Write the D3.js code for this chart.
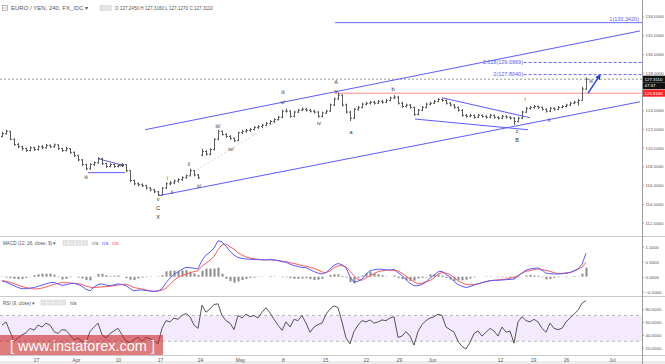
<!DOCTYPE html>
<html>
<head>
<meta charset="utf-8">
<script src="https://cdn.jsdelivr.net/npm/d3@7"></script>
<style>
  body { margin: 0; background: #fff; }
  svg { display: block; font-family: "Liberation Sans", Arial, sans-serif; }
</style>
</head>
<body>
<svg id="chart" width="665" height="364"></svg>
<script>
// 4h bars, sampled ~every third bar: [open, high, low, close]
var ohlc = [
  [121.2,121.7,121.1,121.5],[121.5,121.9,121.4,121.75],[121.75,121.8,120.8,120.9],[120.9,121.0,120.2,120.35],
  [120.35,120.5,119.95,120.1],[120.1,120.2,119.7,119.9],[119.9,120.0,119.55,119.7],[119.7,120.15,119.6,120.0],
  [120.0,120.1,119.65,119.8],[119.8,120.25,119.7,120.1],[120.1,120.3,119.85,120.0],[120.0,120.4,119.9,120.25],
  [120.25,120.35,119.95,120.1],[120.1,120.45,120.0,120.3],[120.3,120.35,119.75,119.9],[119.9,120.0,119.55,119.7],
  [119.7,120.1,119.6,119.9],[119.9,119.95,119.35,119.5],[119.5,119.6,119.0,119.15],[119.15,119.25,118.55,118.7],
  [118.7,118.8,118.05,118.2],[118.2,118.3,117.6,117.75],[117.75,118.35,117.65,118.2],[118.2,118.55,118.05,118.4],
  [118.4,119.0,118.3,118.85],[118.85,118.9,118.15,118.3],[118.3,118.4,117.85,118.0],[118.0,118.35,117.9,118.2],
  [118.2,118.3,117.85,118.0],[118.0,118.25,117.9,118.1],[118.1,118.35,117.95,118.2],[118.2,118.25,117.4,117.55],
  [117.55,117.6,116.35,116.5],[116.5,116.6,116.0,116.15],[116.15,116.3,115.9,116.05],[116.05,116.2,115.8,115.95],
  [115.95,116.05,115.55,115.7],[115.7,115.8,115.35,115.5],[115.5,115.6,115.15,115.3],[115.3,115.4,114.85,114.95],
  [114.95,115.8,114.9,115.7],[115.7,116.3,115.6,116.15],[116.15,116.45,116.0,116.25],[116.25,116.6,116.1,116.45],
  [116.45,116.75,116.3,116.6],[116.6,116.95,116.45,116.8],[116.8,117.15,116.7,117.0],[117.0,117.75,116.95,117.55],
  [117.55,117.6,116.95,117.1],[117.1,117.2,116.65,116.8],[119.2,119.9,119.1,119.6],[119.6,119.75,119.15,119.3],
  [119.3,119.95,119.2,119.8],[119.8,121.0,119.7,120.9],[120.9,121.9,120.8,121.75],[121.75,121.85,121.3,121.4],
  [121.4,121.55,121.05,121.2],[121.2,121.35,120.85,121.0],[121.0,121.1,120.6,120.75],[120.75,121.7,120.7,121.6],
  [121.6,121.9,121.45,121.75],[121.75,122.0,121.6,121.85],[121.85,122.1,121.7,121.95],[121.95,122.3,121.85,122.15],
  [122.15,122.4,122.0,122.25],[122.25,122.55,122.1,122.4],[122.4,122.75,122.3,122.6],[122.6,122.95,122.45,122.8],
  [122.8,123.15,122.65,123.0],[123.0,123.4,122.9,123.25],[123.25,124.05,123.15,123.9],[123.9,124.2,123.75,123.9],
  [123.9,124.0,123.2,123.35],[123.35,123.95,123.25,123.8],[123.8,124.15,123.7,124.0],[124.0,124.3,123.9,124.1],
  [124.1,124.25,123.85,124.0],[124.0,124.15,123.75,123.9],[123.9,124.05,123.65,123.8],[123.8,123.9,123.2,123.35],
  [123.35,123.85,123.25,123.7],[123.7,124.05,123.6,123.9],[123.9,124.7,123.85,124.55],[124.55,125.35,124.45,125.2],
  [125.2,125.9,125.1,125.6],[125.6,125.7,124.4,124.55],[124.55,124.7,123.65,123.8],[123.8,123.95,122.85,123.15],
  [123.15,124.25,123.05,124.1],[124.1,124.45,123.95,124.3],[124.3,124.8,124.2,124.65],[124.65,124.9,124.5,124.75],
  [124.75,125.0,124.6,124.85],[124.85,125.0,124.6,124.75],[124.75,125.1,124.65,124.95],[124.95,125.1,124.7,124.85],
  [124.85,125.2,124.75,125.05],[125.05,125.45,124.95,125.3],[125.3,125.6,125.2,125.4],[125.4,125.5,124.6,124.75],
  [124.75,124.9,124.25,124.4],[124.4,124.7,124.3,124.55],[124.55,124.65,124.15,124.3],[124.3,124.4,123.4,123.55],
  [123.55,124.15,123.45,124.0],[124.0,124.45,123.9,124.3],[124.3,124.8,124.2,124.65],[124.65,124.9,124.5,124.75],
  [124.75,125.1,124.65,124.95],[124.95,125.3,124.85,125.15],[125.15,125.25,124.9,125.05],[125.05,125.15,124.6,124.75],
  [124.75,124.85,124.4,124.55],[124.55,124.65,124.15,124.3],[124.3,124.4,123.85,124.0],[124.0,124.1,123.3,123.45],
  [123.45,123.6,123.2,123.35],[123.35,123.6,123.25,123.45],[123.45,123.55,123.1,123.25],[123.25,123.6,123.15,123.45],
  [123.45,123.55,123.2,123.35],[123.35,123.45,123.1,123.25],[123.25,123.6,123.15,123.45],[123.45,123.55,123.1,123.25],
  [123.25,123.35,123.0,123.15],[123.15,123.5,123.05,123.35],[123.35,123.45,123.1,123.25],[123.25,123.35,123.0,123.15],
  [123.15,123.25,122.45,122.8],[122.8,123.3,122.7,123.15],[123.15,123.95,123.05,123.8],[123.8,124.35,123.7,124.2],
  [124.2,124.45,124.05,124.3],[124.3,124.55,124.15,124.4],[124.4,124.5,124.15,124.3],[124.3,124.4,123.95,124.1],
  [124.1,124.2,123.75,123.9],[123.9,124.35,123.8,124.2],[124.2,124.3,123.95,124.1],[124.1,124.45,124.0,124.3],
  [124.3,124.55,124.2,124.4],[124.4,124.7,124.3,124.55],[124.55,124.9,124.45,124.75],[124.75,125.0,124.65,124.85],
  [124.85,125.2,124.5,125.05],[125.05,126.5,125.0,126.25],[126.25,127.5,126.15,127.31]
];

var macdLine = [
  -0.14,-0.18,-0.24,-0.30,-0.36,-0.40,-0.40,-0.38,-0.36,-0.32,-0.28,-0.24,-0.20,-0.19,-0.24,-0.29,
  -0.27,-0.23,-0.22,-0.26,-0.32,-0.42,-0.47,-0.35,-0.26,-0.24,-0.28,-0.30,-0.27,-0.24,-0.26,-0.30,
  -0.40,-0.47,-0.45,-0.44,-0.46,-0.48,-0.49,-0.48,-0.40,-0.20,-0.05,0.08,0.16,0.25,0.31,0.30,
  0.28,0.26,0.55,0.72,0.82,0.95,1.20,1.16,1.02,0.85,0.72,0.64,0.61,0.59,0.58,0.57,
  0.57,0.56,0.56,0.58,0.56,0.54,0.50,0.48,0.42,0.37,0.34,0.31,0.30,0.24,0.17,0.12,
  0.09,0.14,0.26,0.38,0.44,0.40,0.30,0.00,-0.19,-0.15,-0.08,0.08,0.20,0.23,0.25,0.25,
  0.23,0.22,0.25,0.14,0.04,-0.10,-0.22,-0.30,-0.30,-0.26,-0.18,-0.05,0.05,0.16,0.18,0.08,
  -0.02,-0.16,-0.26,-0.32,-0.36,-0.33,-0.28,-0.24,-0.20,-0.16,-0.13,-0.12,-0.12,-0.11,-0.10,-0.09,
  -0.08,0.02,0.12,0.22,0.26,0.28,0.29,0.22,0.12,0.10,0.09,0.09,0.10,0.11,0.14,0.20,
  0.26,0.42,0.78
];

var signalLine = [
  -0.13,-0.15,-0.19,-0.23,-0.28,-0.33,-0.36,-0.39,-0.41,-0.40,-0.38,-0.34,-0.30,-0.26,-0.22,-0.20,
  -0.20,-0.21,-0.22,-0.23,-0.26,-0.31,-0.35,-0.36,-0.35,-0.34,-0.33,-0.32,-0.30,-0.28,-0.26,-0.25,
  -0.30,-0.36,-0.39,-0.41,-0.44,-0.47,-0.49,-0.47,-0.45,-0.38,-0.25,-0.12,-0.02,0.04,0.09,0.13,
  0.17,0.20,0.35,0.45,0.55,0.68,0.90,1.06,1.09,1.00,0.92,0.80,0.72,0.66,0.62,0.60,
  0.58,0.57,0.56,0.56,0.55,0.54,0.52,0.50,0.47,0.44,0.41,0.37,0.35,0.32,0.28,0.22,
  0.16,0.13,0.20,0.30,0.36,0.37,0.33,0.18,0.03,-0.10,-0.12,-0.04,0.03,0.10,0.17,0.20,
  0.22,0.22,0.21,0.19,0.12,0.02,-0.08,-0.17,-0.24,-0.22,-0.16,-0.13,-0.04,0.08,0.14,0.12,
  0.07,-0.02,-0.14,-0.20,-0.26,-0.27,-0.26,-0.24,-0.20,-0.17,-0.14,-0.12,-0.11,-0.09,-0.08,-0.05,
  -0.02,0.04,0.12,0.18,0.20,0.24,0.26,0.24,0.21,0.18,0.13,0.11,0.11,0.13,0.14,0.18,
  0.25,0.32,0.48
];

var rsiLine = [
  55,60,45,30,35,40,43,50,47,55,52,58,55,45,42,48,47,40,32,35,30,28,45,52,58,40,35,42,46,50,
  40,30,28,33,36,30,36,34,30,26,50,62,60,66,64,70,73,68,55,50,86,75,80,87,88,70,62,58,48,70,
  66,72,68,70,66,75,82,74,64,55,47,60,52,64,62,70,58,44,52,56,58,72,80,85,82,60,35,26,45,55,
  62,60,63,58,60,63,62,66,68,36,38,45,38,24,45,56,62,66,68,72,70,52,48,44,30,22,18,28,42,46,
  38,44,50,46,38,52,44,46,27,60,68,62,60,64,60,50,44,58,50,48,50,60,66,72,78,89,93
];

var priceTicks = [112,114,116,118,120,122,124,126,128,130,132,134];
var macdTicks = [-0.5,0,0.5,1];
var rsiTicks = [20,40,60,80];
var dateLabels = ["27","Apr","10","17","24","May","8","15","22","29","Jun","12","19","26","Jul"];
var dateIdx = [8.5,18.5,29,39.5,49.5,59.5,70.25,80.75,91,99.25,107.5,124.5,132.75,141,152.5];

// Elliott wave labels: [text, bar index, price]
var waveLabels = [
  ["iii",21,116.92],["iv",30,118.19],["v",39,114.47],["C",39,113.51],["X",39,112.55],
  ["i",41.25,116.81],["ii",42.5,115.32],["i/",46.75,118.3],["ii/",49.25,115.96],
  ["iii/",54,122.34],["iv/",57.25,119.9],["iii",70.25,125.96],["v/",70.25,124.9],
  ["iv",79.25,122.66],["A",83.5,127.03],["v",83.5,126.07],["a",87.25,121.71],
  ["b",97.75,126.28],["i",130.75,125.22],["c",128.75,121.81],["B",128.75,120.85],
  ["ii",136.75,122.98],["iii",147.25,127.1]
];

// drawn trend lines: [idx1, price1, idx2, price2]
var trendLines = [
  [35.75,121.92,159.5,132.46],
  [39.25,114.89,159.5,124.90],
  [24,118.83,30.5,118.09],
  [21.5,117.34,30.75,117.34],
  [110,125.33,132,123.20],
  [103.25,123.06,131.5,121.92]
];

var lastPrice = 127.311, stopPrice = 125.816;

var svg = d3.select("#chart");
var axisX = 642;

var x = d3.scaleLinear().domain([0, 146]).range([2, 586]);
var yP = d3.scaleLinear().domain([112, 134]).range([222.7, 16.5]);
var yM = d3.scaleLinear().domain([-0.5, 1]).range([291.7, 246.7]);
var yR = d3.scaleLinear().domain([20, 80]).range([347.7, 309]);

// panel frame
svg.append("clipPath").attr("id", "clipMain")
  .append("rect").attr("x", 0).attr("y", 12).attr("width", axisX).attr("height", 222);

[236, 296, 355].forEach(function (yy) {
  svg.append("line").attr("x1", 0).attr("x2", 665).attr("y1", yy + 0.5).attr("y2", yy + 0.5)
    .attr("stroke", "#c9c9c9");
});
svg.append("rect").attr("x", 0).attr("y", 361).attr("width", 665).attr("height", 3).attr("fill", "#ececec");
svg.append("line").attr("x1", axisX + 0.5).attr("x2", axisX + 0.5).attr("y1", 0).attr("y2", 364)
  .attr("stroke", "#9a9a9a");

// RSI band
svg.append("rect").attr("x", 0).attr("width", axisX).attr("y", yR(70)).attr("height", yR(30) - yR(70))
  .attr("fill", "#f3eafd");
[70, 30].forEach(function (v) {
  svg.append("line").attr("x1", 0).attr("x2", axisX).attr("y1", yR(v)).attr("y2", yR(v))
    .attr("stroke", "#b8b8b8").attr("stroke-dasharray", "3,3");
});

// main panel
var main = svg.append("g").attr("clip-path", "url(#clipMain)");

main.append("line").attr("x1", 0).attr("x2", axisX).attr("y1", yP(lastPrice)).attr("y2", yP(lastPrice))
  .attr("stroke", "#999").attr("stroke-dasharray", "2,2");
main.append("line").attr("x1", x(83)).attr("x2", axisX).attr("y1", yP(stopPrice)).attr("y2", yP(stopPrice))
  .attr("stroke", "#ff8a8a");
main.append("line").attr("x1", x(83.25)).attr("x2", axisX).attr("y1", yP(133.342)).attr("y2", yP(133.342))
  .attr("stroke", "#6a6aff");
main.append("text").attr("x", 639).attr("y", yP(133.342) - 2).attr("text-anchor", "end")
  .attr("font-size", 5.5).attr("fill", "#5c5cff").text("1(133.3420)");

[[129.0969, "2.618(129.0969)"], [127.804, "2(127.8040)"]].forEach(function (f) {
  main.append("line").attr("x1", x(130.4)).attr("x2", axisX).attr("y1", yP(f[0])).attr("y2", yP(f[0]))
    .attr("stroke", "#6a6aff").attr("stroke-dasharray", "3,2");
  main.append("text").attr("x", x(130.25)).attr("y", yP(f[0])).attr("dy", "0.35em")
    .attr("text-anchor", "end").attr("font-size", 5.5).attr("fill", "#5c5cff").text(f[1]);
});

// faint guide
main.append("line").attr("x1", x(48.75)).attr("y1", yP(117.66)).attr("x2", x(71.25)).attr("y2", yP(123.52))
  .attr("stroke", "#d8d8d8").attr("stroke-dasharray", "2,2");

main.selectAll(".trend").data(trendLines).enter().append("line")
  .attr("class", "trend")
  .attr("x1", function (d) { return x(d[0]); }).attr("y1", function (d) { return yP(d[1]); })
  .attr("x2", function (d) { return x(d[2]); }).attr("y2", function (d) { return yP(d[3]); })
  .attr("stroke", "#5b5bff").attr("stroke-width", 1);

// OHLC bars
main.selectAll(".bar").data(ohlc).enter().append("path")
  .attr("class", "bar")
  .attr("d", function (d, i) {
    var cx = Math.round(x(i)) + 0.5;
    return "M" + cx + "," + yP(d[1]) + "V" + yP(d[2]) +
      "M" + (cx - 1.5) + "," + yP(d[0]) + "H" + cx +
      "M" + cx + "," + yP(d[3]) + "H" + (cx + 1.5);
  })
  .attr("fill", "none").attr("stroke", "#5a5a5a").attr("stroke-width", 1);

// target arrow
svg.append("defs").append("marker").attr("id", "arr").attr("viewBox", "0 0 10 10")
  .attr("refX", 8).attr("refY", 5).attr("markerWidth", 4).attr("markerHeight", 4).attr("orient", "auto")
  .append("path").attr("d", "M0,0L10,5L0,10z").attr("fill", "#1f3fe0");
main.append("line").attr("x1", x(146.5)).attr("y1", yP(125.83)).attr("x2", x(149.5)).attr("y2", yP(127.75))
  .attr("stroke", "#1f3fe0").attr("stroke-width", 1.4).attr("marker-end", "url(#arr)");

main.selectAll(".wave").data(waveLabels).enter().append("text")
  .attr("class", "wave")
  .attr("x", function (d) { return x(d[1]); }).attr("y", function (d) { return yP(d[2]); })
  .attr("dy", "0.35em").attr("text-anchor", "middle").attr("font-size", 5.5).attr("fill", "#333")
  .text(function (d) { return d[0]; });

// MACD
svg.selectAll(".hist").data(macdLine).enter().append("rect")
  .attr("class", "hist")
  .attr("x", function (d, i) { return Math.round(x(i)) - 0.5; })
  .attr("width", 2)
  .attr("y", function (d, i) { return Math.min(yM(0), yM(d - signalLine[i])); })
  .attr("height", function (d, i) { return Math.abs(yM(d - signalLine[i]) - yM(0)); })
  .attr("fill", "#8a8a8a");

var lineM = d3.line().x(function (d, i) { return x(i); }).y(function (d) { return yM(d); });
svg.append("path").datum(signalLine).attr("d", lineM).attr("fill", "none").attr("stroke", "#ff5c5c").attr("stroke-width", 1);
svg.append("path").datum(macdLine).attr("d", lineM).attr("fill", "none").attr("stroke", "#5c5cff").attr("stroke-width", 1);

// RSI
var lineR = d3.line().x(function (d, i) { return x(i); }).y(function (d) { return yR(d); });
svg.append("path").datum(rsiLine).attr("d", lineR).attr("fill", "none").attr("stroke", "#555").attr("stroke-width", 1);

// axes
function rightAxis(scale, ticks, fmt) {
  var g = svg.append("g").attr("transform", "translate(" + axisX + ",0)")
    .call(d3.axisRight(scale).tickValues(ticks).tickFormat(fmt).tickSize(2).tickPadding(1.5).tickSizeOuter(0));
  g.select(".domain").remove();
  g.selectAll("line").attr("stroke", "#9a9a9a");
  g.selectAll("text").attr("font-size", 4.4).attr("fill", "#555").attr("font-family", "Liberation Sans, Arial");
  return g;
}
rightAxis(yP, priceTicks, d3.format(".4f"));
rightAxis(yM, macdTicks, d3.format(".4f"));
rightAxis(yR, rsiTicks, d3.format(".4f"));

var gx = svg.append("g").attr("transform", "translate(0,355)")
  .call(d3.axisBottom(x).tickValues(dateIdx).tickFormat(function (d, i) { return dateLabels[i]; })
    .tickSize(0).tickPadding(3));
gx.select(".domain").remove();
gx.selectAll("text").attr("font-size", 5).attr("fill", "#555").attr("font-family", "Liberation Sans, Arial");

// price tags on the axis
function tag(y0, h, bg, txt) {
  svg.append("rect").attr("x", axisX + 1).attr("y", y0).attr("width", 22).attr("height", h).attr("fill", bg);
  svg.append("text").attr("x", axisX + 2.5).attr("y", y0 + h / 2).attr("dy", "0.35em")
    .attr("font-size", 4.4).attr("fill", "#fff").text(txt);
}
tag(yP(lastPrice) - 3.5, 7, "#111", d3.format(".4f")(lastPrice));
tag(yP(lastPrice) + 3.5, 6.5, "#111", "47:37");
tag(yP(stopPrice) - 3.5, 7, "#f22", d3.format(".4f")(stopPrice));

// header legends
function boxes(x0, y0, n) {
  for (var k = 0; k < n; k++) {
    svg.append("rect").attr("x", x0 + k * 6.5).attr("y", y0).attr("width", 5).attr("height", 5)
      .attr("fill", "#e6e6e6").attr("stroke", "#cfcfcf").attr("stroke-width", 0.5);
  }
}
svg.append("rect").attr("x", 2.5).attr("y", 5.5).attr("width", 5).attr("height", 5)
  .attr("fill", "none").attr("stroke", "#888").attr("stroke-width", 0.6);
svg.append("line").attr("x1", 3.5).attr("x2", 6.5).attr("y1", 8).attr("y2", 8).attr("stroke", "#888").attr("stroke-width", 0.6);
svg.append("text").attr("x", 11).attr("y", 10.3).attr("font-size", 6).attr("fill", "#555")
  .text("EURO / YEN, 240, FX_IDC \u25BE");
boxes(100, 5.5, 2);
svg.append("text").attr("x", 115).attr("y", 10).attr("font-size", 4.6).attr("fill", "#555")
  .text("O 127.2450 H 127.3160 L 127.1270 C 127.3110");

svg.append("text").attr("x", 3).attr("y", 245).attr("font-size", 4.6).attr("fill", "#555")
  .text("MACD (12, 26, close, 9) \u25BE");
boxes(63, 240.5, 4);
[["#777", 92], ["#5c5cff", 102], ["#ff5c5c", 112]].forEach(function (c) {
  svg.append("text").attr("x", c[1]).attr("y", 245).attr("font-size", 4.6).attr("fill", c[0]).text("n/a");
});
svg.append("text").attr("x", 3).attr("y", 304.5).attr("font-size", 4.6).attr("fill", "#555")
  .text("RSI (9, close) \u25BE");
boxes(41, 300, 4);
svg.append("text").attr("x", 70).attr("y", 304.5).attr("font-size", 4.6).attr("fill", "#555").text("n/a");

// watermark
svg.append("rect").attr("x", 0).attr("y", 335).attr("width", 163).attr("height", 20)
  .attr("fill", "rgb(200,30,30)").attr("fill-opacity", 0.58);
svg.append("text").attr("x", 10).attr("y", 351).attr("font-size", 15).attr("fill", "#fff")
  .attr("textLength", 145).attr("lengthAdjust", "spacingAndGlyphs")
  .text("[ www.instaforex.com ]");
</script>
</body>
</html>
